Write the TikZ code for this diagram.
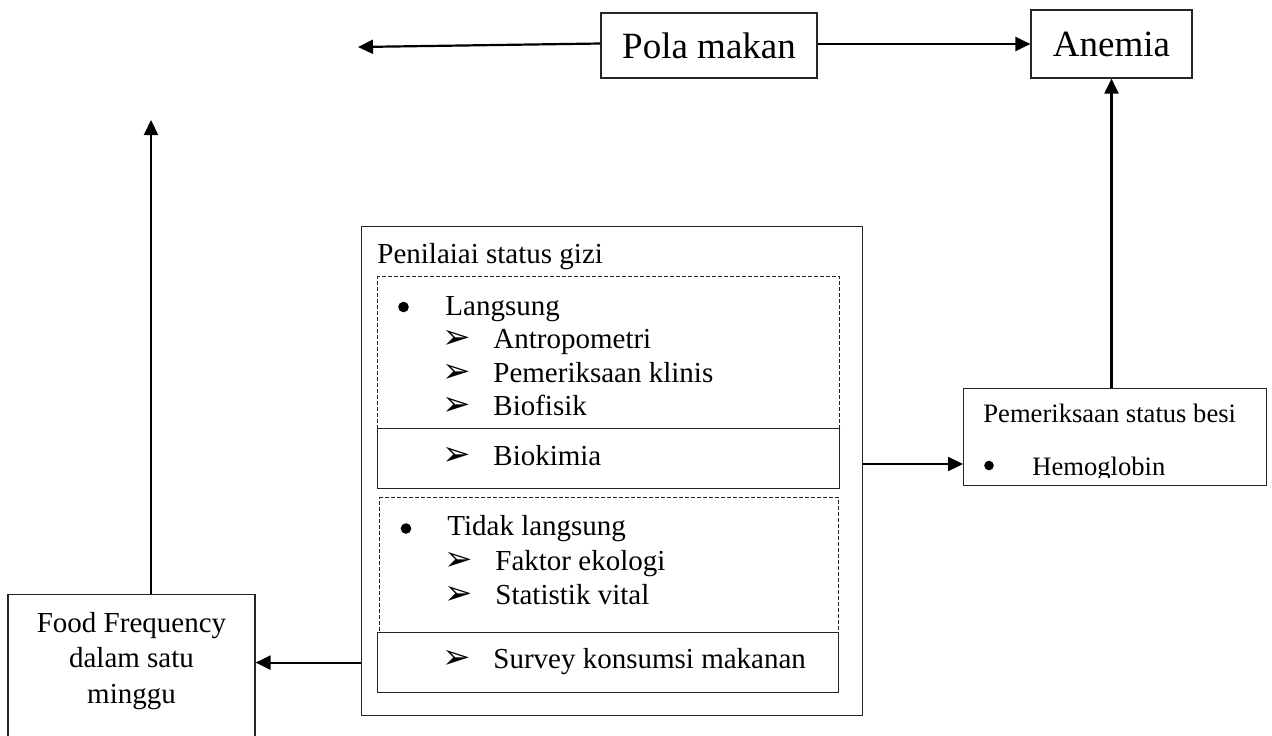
\documentclass[tikz,border=0pt]{standalone}
\usepackage{fontspec}
\setmainfont{Liberation Serif}
\newfontfamily\dingfont{DejaVu Sans}
\usepackage{tikz}
\usetikzlibrary{arrows.meta}
\newcommand{\itemarrow}{{\dingfont\fontsize{17}{17}\selectfont ➢}}

\begin{document}
\begin{tikzpicture}[
  x=0.5pt, y=-0.5pt,
  font=\fontsize{14.5}{17.7}\selectfont,
  box/.style={draw=black!85, line width=0.6pt, inner sep=0pt},
  dbox/.style={box, dash pattern=on 2pt off 1pt},
  big/.style={font=\fontsize{18.5}{22}\selectfont},
  small/.style={font=\fontsize{13.3}{16}\selectfont},
  txt/.style={inner sep=0pt, anchor=base west},
  pointer/.style={inner sep=0pt, anchor=center},
  dot/.style={circle, fill=black, inner sep=0pt, minimum size=5.3pt},
  arr/.style={-{Triangle[length=7.5pt, width=7pt]}, line width=1.1pt},
]
\useasboundingbox (0,0) rectangle (1272,735);

\node[box, big, minimum width=108pt, minimum height=32.5pt] (pola) at (709,45.5) {Pola makan};
\node[box, big, minimum width=80.5pt, minimum height=34pt] (anemia) at (1111.5,44) {Anemia};

\node[box, anchor=north west, minimum width=250.5pt, minimum height=244.5pt] (gizi) at (361,226) {};
\node[dbox, anchor=north west, minimum width=231pt, minimum height=76pt] (langsung) at (377,276) {};
\node[box, anchor=north west, minimum width=231pt, minimum height=30pt] (biokimia) at (377,428) {};
\node[dbox, anchor=north west, minimum width=229.5pt, minimum height=67.5pt] (tidak) at (379,497) {};
\node[box, anchor=north west, minimum width=230.5pt, minimum height=30pt] (survey) at (377,632) {};

\node[txt] (judul) at (377,263) {Penilaiai status gizi};
\node[dot] (d1) at (403.5,307) {};
\node[txt] (t1) at (445,315) {Langsung};
\node[pointer] (a1) at (456.5,339) {\itemarrow};
\node[txt] (t2) at (493,348) {Antropometri};
\node[pointer] (a2) at (456.5,373) {\itemarrow};
\node[txt] (t3) at (493,382) {Pemeriksaan klinis};
\node[pointer] (a3) at (456.5,406) {\itemarrow};
\node[txt] (t4) at (493,415) {Biofisik};
\node[pointer] (a4) at (456.5,456) {\itemarrow};
\node[txt] (t5) at (493,465) {Biokimia};
\node[dot] (d2) at (406,528.5) {};
\node[txt] (t6) at (447,535) {Tidak langsung};
\node[pointer] (a5) at (459,561) {\itemarrow};
\node[txt] (t7) at (495,570) {Faktor ekologi};
\node[pointer] (a6) at (459,595) {\itemarrow};
\node[txt] (t8) at (495,604) {Statistik vital};
\node[pointer] (a7) at (457,659) {\itemarrow};
\node[txt] (t9) at (493,668) {Survey konsumsi makanan};

\node[box, anchor=north west, minimum width=151.5pt, minimum height=48.5pt] (besi) at (963,388) {};
\node[txt, small] (b1) at (983,422) {Pemeriksaan status besi};
\begin{scope}
  \clip (963,388) rectangle (1266,477);
  \node[dot, minimum size=4.8pt] (d3) at (989,465.5) {};
  \node[txt, small] (b2) at (1032,475) {Hemoglobin};
\end{scope}

\node[box, anchor=north, minimum width=123.5pt, minimum height=90pt] (ff) at (131.5,594) {};
\node[inner sep=0pt, anchor=north, align=center] (fftxt) at (131.5,612) {Food Frequency\\dalam satu\\minggu};

\coordinate (polaout) at (358,47);
\coordinate (ffout) at (151,120);
\coordinate (lvl) at (0,464);

\draw[arr] ([yshift=1pt]pola.west) -- (polaout);
\draw[arr] (pola.east |- anemia.west) -- (anemia.west);
\draw[arr] (anemia.south |- besi.north) -- (anemia.south);
\draw[arr] (gizi.east |- lvl) -- (besi.west |- lvl);
\draw[arr] (gizi.west |- survey.west) -- (ff.east |- survey.west);
\draw[arr] (ffout |- ff.north) -- (ffout);
\end{tikzpicture}
\end{document}
